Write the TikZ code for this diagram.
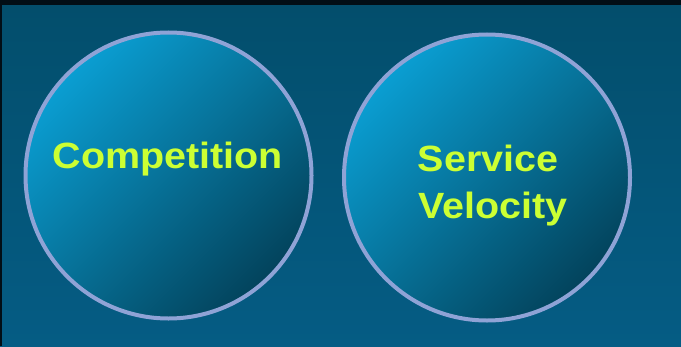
\documentclass[tikz,border=0pt]{standalone}
\usepackage{fontspec}
\newfontfamily\lblfont{Liberation Sans}[FakeStretch=1.08]
\definecolor{bgtop}{HTML}{034E6C}
\definecolor{bgbot}{HTML}{055C84}
\definecolor{topbar}{HTML}{020E16}
\definecolor{rim}{HTML}{8FA3D6}
\definecolor{lite}{HTML}{0A9ED2}
\definecolor{midc}{HTML}{0582AE}
\definecolor{deep}{HTML}{03435C}
\definecolor{lime}{HTML}{CCFF33}
\tikzset{
  bubble/.style={circle, draw=rim, line width=3pt, inner sep=0pt,
    minimum size=214.5pt, top color=lite, middle color=midc, bottom color=deep,
    shading angle=45},
  lbl/.style={text=lime, inner sep=0pt,
    font=\lblfont\bfseries\fontsize{27.4}{36}\selectfont}
}
\begin{document}
\begin{tikzpicture}[x=0.75pt, y=-0.75pt]
  \useasboundingbox (0,0) rectangle (681,346);
  \shade[top color=bgtop, bottom color=bgbot] (0,5) rectangle (681,346);
  \fill[topbar] (0,0) rectangle (681,5);
  \fill[topbar] (0,5) rectangle (1.5,346);
  \node[bubble] (comp) at (168.5,175.5) {};
  \node[bubble] (serv) at (487,177.5) {};
  \node[lbl, anchor=base] (comptxt) at (168,168.5) {Competition};
  \node[lbl, anchor=base] (servtxt) at (488,171) {Service};
  \node[lbl, anchor=base] (velotxt) at (493,218) {Velocity};
\end{tikzpicture}
\end{document}
